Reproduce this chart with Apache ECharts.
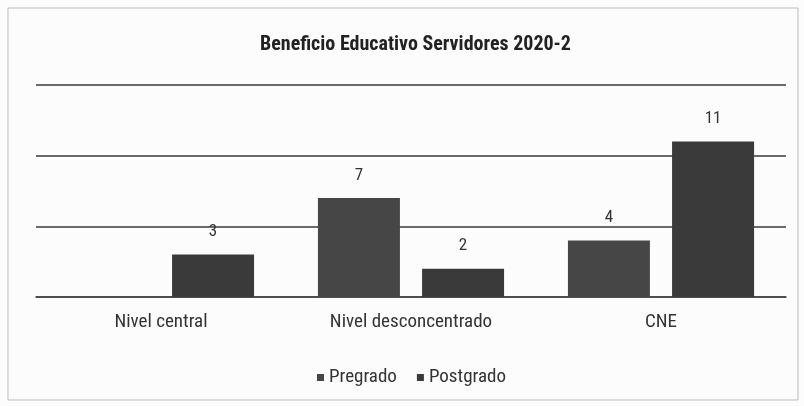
<!DOCTYPE html>
<html><head><meta charset="utf-8">
<script src="https://cdn.jsdelivr.net/npm/echarts@6/dist/echarts.min.js"></script>
<style>html,body{margin:0;padding:0;background:#fff}#c{width:804px;height:406px}</style>
</head><body><div id="c"></div>
<script>
const title = 'Beneficio Educativo Servidores 2020-2';
const categories = ['Nivel central', 'Nivel desconcentrado', 'CNE'];
const seriesNames = ['Pregrado', 'Postgrado'];
const pregrado = [null, 7, 4];
const postgrado = [3, 2, 11];
const yTicks = [0, 5, 10, 15];

const font = '"Roboto Condensed", "Liberation Sans", sans-serif';
const chart = echarts.init(document.getElementById('c'));
const lbl = {show: true, position: 'top', distance: 14, color: '#333', fontSize: 17, fontFamily: font};
chart.setOption({
  backgroundColor: '#fcfcfc',
  animation: false,
  graphic: [{type: 'rect', shape: {x: 8, y: 8, width: 790, height: 392}, style: {fill: 'none', stroke: '#bbb', lineWidth: 1}}],
  title: {text: title, left: 255, top: 30, textStyle: {fontSize: 20, fontWeight: 'bold', color: '#222', fontFamily: font}},
  grid: {left: 36, right: 18, top: 85, bottom: 109},
  legend: {data: seriesNames, top: 363, left: 312, icon: 'rect', itemWidth: 7, itemHeight: 7, itemGap: 20,
    textStyle: {fontSize: 19, color: '#333', fontFamily: font}},
  xAxis: {type: 'category', data: categories, axisTick: {show: false},
    axisLine: {lineStyle: {color: '#444', width: 1.5}},
    axisLabel: {fontSize: 19, color: '#333', fontFamily: font, margin: 16}},
  yAxis: {type: 'value', min: yTicks[0], max: yTicks[yTicks.length - 1], interval: yTicks[1] - yTicks[0],
    axisLabel: {show: false}, axisLine: {show: false}, axisTick: {show: false},
    splitLine: {lineStyle: {color: '#3a3a3a', width: 1.5}}},
  series: [
    {name: seriesNames[0], type: 'bar', data: pregrado, barWidth: 82, barGap: '27%', itemStyle: {color: '#464646'}, label: lbl},
    {name: seriesNames[1], type: 'bar', data: postgrado, barWidth: 82, itemStyle: {color: '#3a3a3a'}, label: lbl}
  ]
});
</script></body></html>
